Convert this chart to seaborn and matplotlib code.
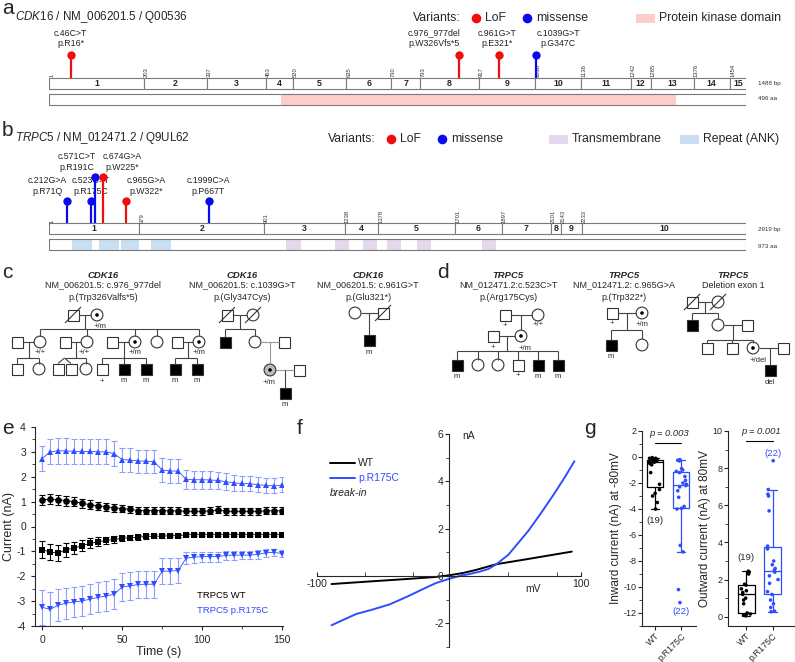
import numpy as np
import pandas as pd
import matplotlib
matplotlib.use('Agg')
import matplotlib.pyplot as plt
from matplotlib.patches import Rectangle, Circle
from matplotlib.ticker import MultipleLocator, FixedLocator
import seaborn as sns

sns.set_style('ticks')
plt.rcParams['font.family'] = ['Liberation Sans', 'DejaVu Sans']
plt.rcParams['mathtext.fontset'] = 'custom'
plt.rcParams['mathtext.it'] = 'Liberation Sans:italic'
plt.rcParams['mathtext.rm'] = 'Liberation Sans'
plt.rcParams['axes.unicode_minus'] = False

W, H = 795, 662
RED = '#f20d0d'
BLUE = '#0a0af0'
TBLUE = '#2f4cff'
PINK = '#ffcccc'
PURPLE = '#e3d8ec'
LBLUE = '#c9dff1'

# ---------------- data ----------------
# a: CDK16
cdk16_bounds = [1, 203, 337, 463, 520, 635, 730, 793, 917, 1038, 1136, 1242, 1285, 1376, 1454, 1488]
cdk16_aa = 496
cdk16_kinase = [(165, 446)]
cdk16_pos = [46, 875, 961, 1039]
cdk16_label_x = [46, 822, 956, 1087]
cdk16_c = ['c.46C>T', 'c.976_977del', 'c.961G>T', 'c.1039G>T']
cdk16_p = ['p.R16*', 'p.W326Vfs*5', 'p.E321*', 'p.G347C']
cdk16_type = ['LoF', 'LoF', 'LoF', 'missense']

# b: TRPC5
trpc5_bounds = [1, 379, 901, 1238, 1378, 1701, 1897, 2101, 2143, 2233, 2919]
trpc5_aa = 973
trpc5_ank = [(32, 60), (70, 98), (100, 125), (142, 170)]
trpc5_tm = [(331, 352), (399, 419), (438, 458), (472, 491), (514, 533), (604, 624)]
trpc5_pos = [75, 176, 193, 226, 322, 670]
trpc5_label_x = [-8, 176, 117, 306, 406, 666]
trpc5_c = ['c.212G>A', 'c.523C>T', 'c.571C>T', 'c.674G>A', 'c.965G>A', 'c.1999C>A']
trpc5_p = ['p.R71Q', 'p.R175C', 'p.R191C', 'p.W225*', 'p.W322*', 'p.P667T']
trpc5_type = ['missense', 'missense', 'missense', 'LoF', 'LoF', 'missense']
trpc5_high = [False, False, True, True, False, False]

# e: currents over time
t_sec = [0, 5, 10, 15, 20, 25, 30, 35, 40, 45, 50, 55, 60, 65, 70, 75, 80, 85, 90, 95,
         100, 105, 110, 115, 120, 125, 130, 135, 140, 145, 150]
wt_out = [1.08, 1.09, 1.08, 1.04, 1.00, 0.93, 0.88, 0.83, 0.80, 0.75, 0.72, 0.69, 0.64, 0.64, 0.64,
          0.64, 0.63, 0.63, 0.61, 0.61, 0.61, 0.63, 0.67, 0.61, 0.61, 0.61, 0.61, 0.61, 0.63, 0.64, 0.63]
wt_out_err = [0.20, 0.20, 0.20, 0.20, 0.19, 0.19, 0.18, 0.17, 0.16, 0.15, 0.15, 0.14, 0.14, 0.14, 0.14,
              0.14, 0.14, 0.14, 0.14, 0.14, 0.14, 0.14, 0.14, 0.14, 0.14, 0.14, 0.14, 0.14, 0.14, 0.14, 0.14]
wt_in = [-0.93, -1.03, -1.07, -0.93, -0.87, -0.77, -0.68, -0.61, -0.56, -0.52, -0.48, -0.45, -0.43, -0.40,
         -0.39, -0.39, -0.37, -0.37, -0.33, -0.33, -0.33, -0.33, -0.33, -0.33, -0.33, -0.33, -0.33, -0.33,
         -0.33, -0.33, -0.33]
wt_in_err = [0.33, 0.33, 0.32, 0.28, 0.25, 0.23, 0.20, 0.18, 0.15, 0.13, 0.11, 0.10, 0.10, 0.09, 0.08,
             0.08, 0.07, 0.07, 0.07, 0.07, 0.07, 0.07, 0.07, 0.07, 0.07, 0.07, 0.07, 0.07, 0.07, 0.07, 0.07]
mut_out = [2.73, 3.00, 3.04, 3.04, 3.02, 3.02, 3.02, 3.00, 3.00, 2.93, 2.69, 2.67, 2.63, 2.63, 2.60,
           2.27, 2.23, 2.23, 1.89, 1.88, 1.88, 1.87, 1.85, 1.80, 1.75, 1.73, 1.72, 1.68, 1.65, 1.63, 1.67]
mut_out_err = [0.50, 0.50, 0.52, 0.52, 0.50, 0.50, 0.50, 0.50, 0.50, 0.50, 0.48, 0.47, 0.46, 0.46, 0.46,
               0.47, 0.47, 0.47, 0.38, 0.37, 0.37, 0.36, 0.35, 0.34, 0.32, 0.32, 0.31, 0.30, 0.30, 0.30, 0.30]
mut_in = [-3.25, -3.33, -3.16, -3.08, -3.03, -2.99, -2.92, -2.85, -2.79, -2.72, -2.43, -2.39, -2.33, -2.32,
          -2.32, -1.80, -1.79, -1.77, -1.27, -1.23, -1.21, -1.21, -1.21, -1.16, -1.15, -1.15, -1.15, -1.12,
          -1.05, -1.04, -1.09]
mut_in_err = [0.70, 0.70, 0.65, 0.62, 0.60, 0.60, 0.60, 0.60, 0.60, 0.60, 0.58, 0.56, 0.55, 0.55, 0.55,
              0.53, 0.52, 0.50, 0.25, 0.22, 0.20, 0.20, 0.20, 0.18, 0.18, 0.17, 0.17, 0.17, 0.16, 0.15, 0.15]

# f: I-V curves at break-in
iv_mv_wt = [-89, -60, -30, -10, 0, 10, 20, 36, 60, 93]
iv_wt = [-0.34, -0.23, -0.12, -0.04, 0.03, 0.12, 0.25, 0.50, 0.72, 1.03]
iv_mv_mut = [-89, -80, -70, -58, -45, -32, -20, -10, 0, 8, 15, 23, 30, 36, 45, 51, 60, 69, 80, 88, 95]
iv_mut = [-2.08, -1.85, -1.60, -1.42, -1.20, -0.88, -0.56, -0.30, -0.12, 0.0, 0.08, 0.18, 0.30, 0.50,
          0.90, 1.30, 1.90, 2.60, 3.50, 4.20, 4.85]

# g: single cell currents
groups = ['WT', 'p.R175C']
inward_wt = [-4.0, -3.5, -3.0, -2.8, -2.5, -2.1, -1.2, -0.6, -0.5, -0.4, -0.35, -0.3, -0.3, -0.25,
             -0.2, -0.15, -0.1, -0.1, -0.05]
inward_mut = [-11.2, -10.2, -7.3, -6.8, -4.0, -3.95, -3.8, -3.1, -2.6, -2.3, -2.2, -2.1, -2.0, -1.8,
              -1.5, -1.2, -1.1, -1.0, -0.9, -0.3, -0.25, -0.2]
outward_wt = [0.05, 0.08, 0.1, 0.12, 0.15, 0.2, 0.7, 0.9, 1.0, 1.2, 1.3, 1.4, 1.5, 1.7, 1.75, 2.3,
              2.4, 2.4, 2.45]
outward_mut = [0.27, 0.3, 0.5, 0.7, 0.9, 1.2, 1.35, 1.8, 2.0, 2.2, 2.4, 2.5, 2.6, 2.8, 3.0, 3.65,
               3.8, 5.7, 6.5, 6.6, 6.85, 8.4]

# ---------------- figure ----------------
fig = plt.figure(figsize=(W / 100, H / 100), dpi=100)


def px_axes(x0, y0, x1, y1, **kw):
    return fig.add_axes([x0 / W, 1 - y1 / H, (x1 - x0) / W, (y1 - y0) / H], **kw)


ov = px_axes(0, 0, W, H)
ov.set_xlim(0, W)
ov.set_ylim(H, 0)
ov.axis('off')
ov.set_zorder(5)


def draw_gene(y0, y1, bounds, aa_len, domains, pos, label_x, c_lab, p_lab, vtype,
              bar_y, prot_y, head_y, lab_y):
    ax = px_axes(49, y0, 746, y1)
    ax.set_xlim(0, bounds[-1])
    ax.set_ylim(y1, y0)
    ax.axis('off')
    ax2 = px_axes(49, y0, 746, y1)
    ax2.set_xlim(0, aa_len)
    ax2.set_ylim(y1, y0)
    ax2.axis('off')
    bh = 11
    starts = bounds[:-1]
    widths = np.diff(bounds)
    ax.barh([bar_y] * len(starts), widths, left=starts, height=bh, color='white',
            edgecolor='#7a7a7a', linewidth=0.8)
    for i, (s, w) in enumerate(zip(starts, widths)):
        ax.text(s + w / 2, bar_y, str(i + 1), ha='center', va='center', fontsize=6.3,
                fontweight='bold')
        ax.text(s, bar_y - bh / 2 - 0.8, str(s), rotation=90, ha='left', va='bottom',
                fontsize=4.2, color='#333333')
    for d0, d1, col in domains:
        ax2.barh(prot_y, d1 - d0, left=d0, height=bh, color=col, linewidth=0)
    ax2.barh(prot_y, aa_len, left=0, height=bh, facecolor='none', edgecolor='#7a7a7a',
             linewidth=0.8)
    cols = [RED if v == 'LoF' else BLUE for v in vtype]
    for x, hy, lx, ly, c, p, col in zip(pos, head_y, label_x, lab_y, c_lab, p_lab, cols):
        ax.vlines(x, hy, bar_y - bh / 2, colors=col, linewidth=1.6, zorder=3)
        ax.scatter([x], [hy], s=36, color=col, zorder=4, linewidths=0)
        ax.text(lx, ly, c, ha='center', va='center', fontsize=6.3, color='#222222')
        ax.text(lx, ly + 11, p, ha='center', va='center', fontsize=6.3, color='#222222')
    return ax


# panel a
draw_gene(0, 112, cdk16_bounds, cdk16_aa, [(a, b, PINK) for a, b in cdk16_kinase],
          cdk16_pos, cdk16_label_x, cdk16_c, cdk16_p, cdk16_type,
          bar_y=83, prot_y=99, head_y=[55] * 4, lab_y=[33] * 4)
# panel b
b_head = [177 if h else 201 for h in trpc5_high]
b_lab = [157 if h else 181 for h in trpc5_high]
draw_gene(120, 262, trpc5_bounds, trpc5_aa,
          [(a, b, LBLUE) for a, b in trpc5_ank] + [(a, b, PURPLE) for a, b in trpc5_tm],
          trpc5_pos, trpc5_label_x, trpc5_c, trpc5_p, trpc5_type,
          bar_y=229, prot_y=245, head_y=b_head, lab_y=b_lab)

ov.text(758, 83, '1488 bp', fontsize=4.5, va='center', color='#333333')
ov.text(758, 99, '496 aa', fontsize=4.5, va='center', color='#333333')
ov.text(758, 229, '2919 bp', fontsize=4.5, va='center', color='#333333')
ov.text(758, 246, '973 aa', fontsize=4.5, va='center', color='#333333')

ov.text(15, 17, r'$\mathit{CDK16}$ / NM_006201.5 / Q00536', fontsize=8.4, va='center')
ov.text(15, 138, r'$\mathit{TRPC5}$ / NM_012471.2 / Q9UL62', fontsize=8.4, va='center')

# legends for a and b
for ly, vx in [(18, 413), (139, 328)]:
    ov.text(vx, ly, 'Variants:', fontsize=8.8, va='center')
    ov.scatter([vx + 63], [ly], s=48, color=RED, linewidths=0)
    ov.text(vx + 72, ly, 'LoF', fontsize=8.8, va='center')
    ov.scatter([vx + 114], [ly], s=48, color=BLUE, linewidths=0)
    ov.text(vx + 123, ly, 'missense', fontsize=8.8, va='center')
ov.add_patch(Rectangle((636, 14), 19, 9, color=PINK, lw=0))
ov.text(659, 18, 'Protein kinase domain', fontsize=8.8, va='center')
ov.add_patch(Rectangle((549, 135), 19, 9, color=PURPLE, lw=0))
ov.text(572, 139, 'Transmembrane', fontsize=8.8, va='center')
ov.add_patch(Rectangle((680, 135), 19, 9, color=LBLUE, lw=0))
ov.text(703, 139, 'Repeat (ANK)', fontsize=8.8, va='center')

# panel letters
for s, x, y in [('a', 2, 8), ('b', 2, 131), ('c', 2, 272), ('d', 437, 273),
                ('e', 2, 428), ('f', 297, 428), ('g', 584, 428)]:
    ov.text(x, y, s, fontsize=15, va='center', ha='left')

# ---------------- pedigrees ----------------
LC = '#444444'


def ln(xs, ys, c=LC):
    ov.plot(xs, ys, color=c, lw=0.8, solid_capstyle='butt')


def ind(x, y, sex, aff=False, car=False, dead=False, fill='white'):
    s = 11
    fc = 'black' if aff else fill
    if sex == 'm':
        p = Rectangle((x - s / 2, y - s / 2), s, s, facecolor=fc, edgecolor='#333333', lw=0.8)
    else:
        p = Circle((x, y), s / 2 + 0.4, facecolor=fc, edgecolor='#333333', lw=0.8)
    ov.add_patch(p)
    if car:
        ov.add_patch(Circle((x, y), 1.8, facecolor='black', edgecolor='none'))
    if dead:
        ln([x - 8, x + 8], [y + 8, y - 8], c='#333333')


def lab(x, y, s):
    ov.text(x, y, s, fontsize=5.5, ha='center', va='center')


def header(x, lines):
    ov.text(x, 275, lines[0], fontsize=6.8, ha='center', va='center', fontweight='bold',
            fontstyle='italic')
    for i, t in enumerate(lines[1:]):
        ov.text(x, 285 + 12 * i, t, fontsize=6.5, ha='center', va='center')


header(103, ['CDK16', 'NM_006201.5: c.976_977del', 'p.(Trp326Valfs*5)'])
header(242, ['CDK16', 'NM_006201.5: c.1039G>T', 'p.(Gly347Cys)'])
header(368, ['CDK16', 'NM_006201.5: c.961G>T', 'p.(Glu321*)'])
header(508, ['TRPC5', 'NM_012471.2:c.523C>T', 'p.(Arg175Cys)'])
header(624, ['TRPC5', 'NM_012471.2: c.965G>A', 'p.(Trp322*)'])
header(733, ['TRPC5', 'Deletion exon 1'])

# c1
ind(73, 315, 'm', dead=True); ind(97, 315, 'f', car=True)
ln([78.5, 91], [315, 315]); lab(100, 326, '+/m')
ln([85, 85], [315, 329]); ln([40, 199], [329, 329])
for x in [40, 87, 135, 157, 199]:
    ln([x, x], [329, 336])
for x, sx in [(17, 'm'), (40, 'f'), (65, 'm'), (87, 'f'), (112, 'm'), (157, 'f'), (177, 'm')]:
    ind(x, 342, sx)
ind(135, 342, 'f', car=True); ind(199, 342, 'f', car=True)
for a_, b_ in [(22.5, 34), (70.5, 81), (117.5, 129), (182.5, 193)]:
    ln([a_, b_], [342, 342])
lab(40, 352, '+/+'); lab(84, 352, '+/+'); lab(135, 352, '+/m'); lab(199, 352, '+/m')
for mx in [28.5, 76, 123.5, 188]:
    ln([mx, mx], [342, 358])
for a_, b_ in [(17, 39), (64.5, 86), (102, 146), (175, 197)]:
    ln([a_, b_], [358, 358])
for x in [17, 39, 86, 102, 124, 146, 175, 197]:
    ln([x, x], [358, 363.5])
ln([64.5, 58], [358, 363.5]); ln([64.5, 71], [358, 363.5])
for x, sx in [(17, 'm'), (39, 'f'), (58, 'm'), (71, 'm'), (86, 'f'), (102, 'm')]:
    ind(x, 369, sx)
for x in [124, 146, 175, 197]:
    ind(x, 369, 'm', aff=True); lab(x, 381, 'm')
lab(102, 381, '+')

# c2
ind(227, 315, 'm', dead=True); ind(253, 315, 'f', dead=True)
ln([232.5, 247], [315, 315]); ln([240, 240], [315, 329]); ln([225, 255], [329, 329])
ln([225, 225], [329, 336.5]); ln([255, 255], [329, 336])
ind(225, 342, 'm', aff=True); ind(255, 342, 'f'); ind(284, 342, 'm')
ln([261, 278.5], [342, 342], c='#999999'); ln([270, 270], [342, 364], c='#999999')
ind(270, 370, 'f', car=True, fill='#bdbdbd'); ind(299, 370, 'm')
ln([276, 293.5], [370, 370], c='#999999'); lab(269, 382, '+/m')
ln([285, 285], [370, 387.5]); ind(285, 393, 'm', aff=True); lab(285, 405, 'm')

# c3
ind(355, 313, 'f'); ind(383, 313, 'm', dead=True)
ln([361, 377.5], [313, 313]); ln([369, 369], [313, 334.5])
ind(369, 340, 'm', aff=True); lab(369, 352, 'm')

# d1
ind(505, 315, 'm'); ind(538, 315, 'f')
ln([510.5, 532], [315, 315]); lab(505, 325, '+'); lab(538, 325, '+/+')
ln([521, 521], [315, 330]); ind(521, 336, 'f', car=True); ind(493, 336, 'm')
ln([498.5, 515], [336, 336]); lab(493, 348, '+'); lab(525, 348, '+/m')
ln([507, 507], [336, 351]); ln([457, 558], [351, 351])
for x in [457, 478, 498, 518, 538, 558]:
    ln([x, x], [351, 359.5])
ind(457, 365, 'm', aff=True); ind(478, 365, 'f'); ind(498, 365, 'f'); ind(518, 365, 'm')
ind(538, 365, 'm', aff=True); ind(558, 365, 'm', aff=True)
lab(457, 376, 'm'); lab(518, 376, '+'); lab(538, 376, 'm'); lab(558, 376, 'm')

# d2
ind(612, 313, 'm'); ind(642, 313, 'f', car=True)
ln([617.5, 636], [313, 313]); lab(612, 324, '+'); lab(642, 324, '+/m')
ln([627, 627], [313, 330]); ln([611, 642], [330, 330])
ln([611, 611], [330, 339.5]); ln([642, 642], [330, 339])
ind(611, 345, 'm', aff=True); ind(642, 345, 'f'); lab(611, 356, 'm')

# d3
ind(692, 302, 'm', dead=True); ind(718, 302, 'f', dead=True)
ln([697.5, 712], [302, 302]); ln([705, 705], [302, 313]); ln([692, 718], [313, 313])
ln([692, 692], [313, 319.5]); ln([718, 718], [313, 319])
ind(692, 325, 'm', aff=True); ind(718, 325, 'f'); ind(747, 325, 'm')
ln([724, 741.5], [325, 325]); ln([733, 733], [325, 340]); ln([707, 753], [340, 340])
for x in [707, 732, 753]:
    ln([x, x], [340, 342.5])
ind(707, 348, 'm'); ind(732, 348, 'm'); ind(753, 348, 'f', car=True); ind(783, 348, 'm')
ln([759, 777.5], [348, 348]); lab(758, 361, '+/del')
ln([770, 770], [348, 364.5]); ind(770, 370, 'm', aff=True); lab(770, 382, 'del')

# ---------------- panel e ----------------
axe = px_axes(35, 427, 283, 626)
series = [(wt_out, wt_out_err, 'o', 'black', 'black'),
          (wt_in, wt_in_err, 's', 'black', 'black'),
          (mut_out, mut_out_err, '^', TBLUE, '#8f9fff'),
          (mut_in, mut_in_err, 'v', TBLUE, '#8f9fff')]
for vals, err, mk, col, ecol in series:
    axe.errorbar(t_sec, vals, yerr=err, fmt='none', ecolor=ecol, elinewidth=0.8, capsize=2,
                 capthick=0.8, zorder=2)
    sns.lineplot(x=t_sec, y=vals, marker=mk, color=col, markersize=4.8, markeredgewidth=0,
                 linewidth=0.6, ax=axe, zorder=3)
axe.set_xlim(-4.5, 150.5)
axe.set_ylim(-4, 4)
axe.xaxis.set_major_locator(MultipleLocator(50))
axe.xaxis.set_minor_locator(MultipleLocator(25))
axe.yaxis.set_major_locator(MultipleLocator(1))
axe.yaxis.set_minor_locator(MultipleLocator(0.5))
axe.tick_params(labelsize=7.5, length=3, width=0.8)
axe.tick_params(which='minor', length=2, width=0.6)
axe.set_xlabel('Time (s)', fontsize=9, labelpad=1)
axe.set_ylabel('Current (nA)', fontsize=9, labelpad=1)
sns.despine(ax=axe)
axe.text(97, -2.76, 'TRPC5 WT', fontsize=6.8, color='black', va='center')
axe.text(97, -3.36, 'TRPC5 p.R175C', fontsize=6.8, color=TBLUE, va='center')

# ---------------- panel f ----------------
axf = px_axes(317, 434, 581, 647)
sns.lineplot(x=iv_mv_wt, y=iv_wt, color='black', linewidth=1.4, ax=axf, sort=False)
sns.lineplot(x=iv_mv_mut, y=iv_mut, color=TBLUE, linewidth=1.4, ax=axf, sort=False)
axf.set_xlim(-100, 100)
axf.set_ylim(-3, 6)
axf.spines['left'].set_position(('data', 0))
axf.spines['bottom'].set_position(('data', 0))
axf.spines['top'].set_visible(False)
axf.spines['right'].set_visible(False)
axf.set_yticks([-2, 0, 2, 4, 6])
axf.yaxis.set_minor_locator(MultipleLocator(1))
axf.set_xticks([-100, 100])
axf.xaxis.set_minor_locator(FixedLocator([-64, -27, 9, 45, 82]))
axf.tick_params(axis='y', labelsize=7.5, length=3, width=0.8, pad=1)
axf.tick_params(axis='y', which='minor', length=2)
axf.tick_params(axis='x', labelsize=7.5, length=3, width=0.8, direction='in', pad=2)
axf.tick_params(axis='x', which='minor', length=3, direction='in')
axf.text(10, 5.9, 'nA', fontsize=7.5, va='center')
axf.text(58, -0.55, 'mV', fontsize=7.5, va='center')
axf.plot([-90, -71], [4.79, 4.79], color='black', lw=1.4)
axf.plot([-90, -71], [4.15, 4.15], color=TBLUE, lw=1.4)
axf.text(-69, 4.79, 'WT', fontsize=7.5, va='center')
axf.text(-69, 4.15, 'p.R175C', fontsize=7.5, va='center', color=TBLUE)
axf.text(-90, 3.5, 'break-in', fontsize=7.5, va='center', fontstyle='italic')

# ---------------- panel g ----------------
np.random.seed(3)
pal = {'WT': 'black', 'p.R175C': TBLUE}


def box_panel(ax, wt_vals, mut_vals):
    df = pd.DataFrame({'group': ['WT'] * len(wt_vals) + ['p.R175C'] * len(mut_vals),
                       'val': wt_vals + mut_vals})
    sns.boxplot(data=df, x='group', y='val', hue='group', order=groups, hue_order=groups,
                palette=pal, fill=False, width=0.65, showfliers=False, linewidth=0.9,
                legend=False, ax=ax)
    sns.stripplot(data=df, x='group', y='val', hue='group', order=groups, hue_order=groups,
                  palette=pal, size=2.6, jitter=0.22, legend=False, ax=ax)
    sns.despine(ax=ax)
    ax.set_xlabel('')
    ax.tick_params(labelsize=6.5, length=3, width=0.8, pad=1)
    ax.tick_params(which='minor', length=2, width=0.6)
    for t in ax.get_xticklabels():
        t.set_rotation(45)
        t.set_ha('right')
        t.set_rotation_mode('anchor')


axg1 = px_axes(642, 431, 696, 626)
box_panel(axg1, inward_wt, inward_mut)
axg1.set_xlim(-0.5, 1.58)
axg1.set_ylim(-13, 2)
axg1.yaxis.set_major_locator(MultipleLocator(2))
axg1.yaxis.set_minor_locator(MultipleLocator(1))
axg1.set_ylabel('Inward current (nA) at -80mV', fontsize=8.5, labelpad=1)
axg1.plot([0, 1], [1.08, 1.08], color='black', lw=0.8)
axg1.text(0.55, 1.77, 'p = 0.003', fontsize=6.8, ha='center', va='center', fontstyle='italic')
axg1.text(0, -4.85, '(19)', fontsize=6.8, ha='center', va='center')
axg1.text(1, -11.9, '(22)', fontsize=6.8, ha='center', va='center', color=TBLUE)

axg2 = px_axes(728, 431, 795, 626)
box_panel(axg2, outward_wt, outward_mut)
axg2.set_xlim(-0.69, 1.85)
axg2.set_ylim(-0.5, 10)
axg2.yaxis.set_major_locator(MultipleLocator(2))
axg2.yaxis.set_minor_locator(MultipleLocator(1))
axg2.set_ylabel('Outward current (nA) at 80mV', fontsize=8.5, labelpad=1)
axg2.plot([0, 1], [9.46, 9.46], color='black', lw=0.8)
axg2.text(0.55, 9.95, 'p = 0.001', fontsize=6.8, ha='center', va='center', fontstyle='italic')
axg2.text(0, 3.17, '(19)', fontsize=6.8, ha='center', va='center')
axg2.text(1, 8.8, '(22)', fontsize=6.8, ha='center', va='center', color=TBLUE)

fig.savefig('out.png', dpi=100)
